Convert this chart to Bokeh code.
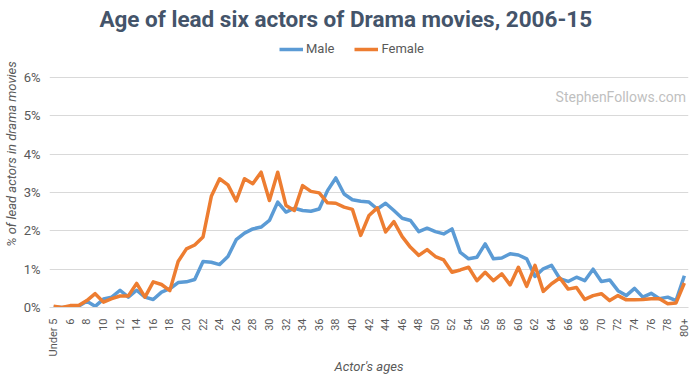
from bokeh.plotting import figure
from bokeh.models import (FactorRange, Range1d, FixedTicker, PrintfTickFormatter, Legend,
                          LegendItem, Label, CustomJSTickFormatter)
from bokeh.embed import file_html
from bokeh.resources import INLINE
import math

ages = ["Under 5"] + [str(a) for a in range(5, 80)] + ["80+"]

male = [0.01, 0.0, 0.01, 0.03, 0.16, 0.03, 0.22, 0.27, 0.45, 0.27,
        0.45, 0.27, 0.21, 0.40, 0.49, 0.65, 0.67, 0.73, 1.20, 1.18,
        1.12, 1.33, 1.77, 1.94, 2.05, 2.10, 2.27, 2.75, 2.49, 2.59,
        2.53, 2.51, 2.57, 3.05, 3.38, 2.96, 2.81, 2.77, 2.75, 2.57,
        2.72, 2.53, 2.33, 2.27, 1.98, 2.07, 1.98, 1.92, 2.05, 1.44,
        1.27, 1.31, 1.66, 1.27, 1.29, 1.40, 1.37, 1.27, 0.81, 1.01,
        1.10, 0.75, 0.68, 0.79, 0.70, 1.00, 0.68, 0.72, 0.44, 0.31,
        0.50, 0.27, 0.37, 0.23, 0.27, 0.18, 0.83]

female = [0.03, 0.0, 0.05, 0.05, 0.18, 0.36, 0.14, 0.23, 0.30, 0.30,
          0.63, 0.27, 0.67, 0.60, 0.44, 1.20, 1.53, 1.63, 1.84, 2.90,
          3.36, 3.20, 2.78, 3.36, 3.23, 3.53, 2.79, 3.53, 2.66, 2.53,
          3.18, 3.03, 2.99, 2.73, 2.72, 2.62, 2.56, 1.88, 2.40, 2.60,
          1.97, 2.24, 1.85, 1.57, 1.36, 1.51, 1.33, 1.24, 0.92, 0.98,
          1.05, 0.70, 0.92, 0.70, 0.88, 0.59, 1.05, 0.55, 1.10, 0.42,
          0.62, 0.77, 0.48, 0.52, 0.21, 0.31, 0.36, 0.18, 0.31, 0.20,
          0.20, 0.21, 0.23, 0.23, 0.10, 0.12, 0.64]

y_ticks = [0, 1, 2, 3, 4, 5, 6]

FONT = "Roboto"
GRAY = "#595959"

p = figure(x_range=FactorRange(*ages), y_range=Range1d(0, 8.01),
           frame_width=639, frame_height=307, output_backend="svg", toolbar_location=None,
           min_border_left=36, min_border_right=2, min_border_top=0, min_border_bottom=10)

p.outline_line_color = None
p.xgrid.grid_line_color = None
p.ygrid.grid_line_color = "#D9D9D9"
p.ygrid.grid_line_width = 1

p.yaxis.ticker = FixedTicker(ticks=y_ticks)
p.yaxis.formatter = PrintfTickFormatter(format="%d%%")
p.yaxis.axis_line_color = None
p.yaxis.major_tick_line_color = None
p.yaxis.minor_tick_line_color = None
p.yaxis.major_label_text_font = FONT
p.yaxis.major_label_text_font_size = "13px"
p.yaxis.major_label_text_color = GRAY
p.yaxis.major_label_standoff = 3
p.yaxis.axis_label = "% of lead actors in drama movies"
p.yaxis.axis_label_text_font = FONT
p.yaxis.axis_label_text_font_style = "italic"
p.yaxis.axis_label_text_font_size = "13px"
p.yaxis.axis_label_text_color = GRAY
p.yaxis.axis_label_standoff = 2

p.xaxis.axis_line_color = "#D9D9D9"
p.xaxis.major_tick_line_color = None
p.xaxis.minor_tick_line_color = None
p.xaxis.major_label_orientation = math.pi / 2
p.xaxis.major_label_text_font = FONT
p.xaxis.major_label_text_font_size = "11px"
p.xaxis.major_label_text_color = GRAY
p.xaxis.major_label_standoff = 5
p.xaxis.formatter = CustomJSTickFormatter(code="return (index % 2 == 0) ? tick : '';")
p.xaxis.axis_label = "Actor's ages"
p.xaxis.axis_label_text_font = FONT
p.xaxis.axis_label_text_font_style = "italic"
p.xaxis.axis_label_text_font_size = "13px"
p.xaxis.axis_label_text_color = GRAY
p.xaxis.axis_label_standoff = 0

r_m = p.line(ages, male, line_color="#5B9BD5", line_width=3.5, line_join="round")
r_f = p.line(ages, female, line_color="#ED7D31", line_width=3.5, line_join="round")

legend = Legend(items=[LegendItem(label="Male", renderers=[r_m]),
                       LegendItem(label="Female", renderers=[r_f])],
                orientation="horizontal", location=(230, 251),
                border_line_color=None, background_fill_alpha=0,
                label_text_font=FONT, label_text_font_size="13px",
                label_text_color=GRAY, glyph_width=24, glyph_height=10,
                label_standoff=3, spacing=20, padding=2, margin=0)
p.add_layout(legend)

title = Label(x=35.7, y=7.54, text="Age of lead six actors of Drama movies, 2006-15",
              text_align="center", text_baseline="middle", text_font=FONT,
              text_font_size="22.5px", text_font_style="bold", text_color="#44546A")
p.add_layout(title)

wm = Label(x=76.7, y=5.48, text="StephenFollows.com", text_align="right",
           text_baseline="middle", text_font=FONT, text_font_size="14px",
           text_color="#BFBFBF")
p.add_layout(wm)

open("out.html", "w").write(file_html(p, INLINE))
